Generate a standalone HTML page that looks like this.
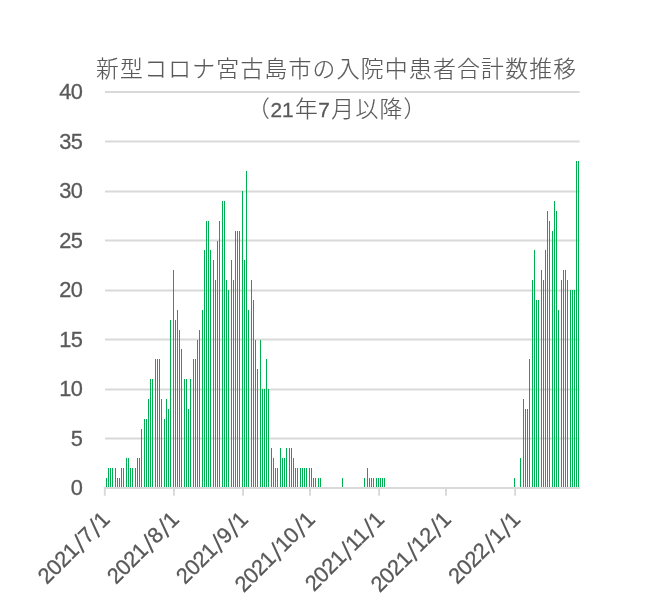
<!DOCTYPE html>
<html lang="ja"><head><meta charset="utf-8"><title>新型コロナ宮古島市の入院中患者合計数推移</title>
<style>
html,body{margin:0;padding:0;background:#fff;}
body{width:648px;height:601px;overflow:hidden;}
svg{display:block;}
.aa{shape-rendering:geometricPrecision;}
.num{font-family:"Liberation Sans",sans-serif;font-size:21.8px;fill:#595959;letter-spacing:-0.4px;stroke:#595959;stroke-width:0.3px;}
.ttl{font-family:"Liberation Sans","Noto Sans CJK JP",sans-serif;font-size:22.8px;letter-spacing:1.27px;font-weight:300;fill:#595959;stroke:#595959;stroke-width:0.15px;}
.sl{font-size:27px;stroke-width:0;}
.tn{font-family:"Liberation Sans",sans-serif;font-size:20.8px;font-weight:400;letter-spacing:0.1px;stroke:#595959;stroke-width:0.3px;}
</style></head>
<body>
<svg width="648" height="601" viewBox="0 0 648 601">
<rect width="648" height="601" fill="#fff"/>
<g shape-rendering="crispEdges">
<rect class="aa" x="105" y="437.50" width="474.6" height="2" fill="#D9D9D9"/>
<rect class="aa" x="105" y="388.50" width="474.6" height="2" fill="#D9D9D9"/>
<rect class="aa" x="105" y="338.50" width="474.6" height="2" fill="#D9D9D9"/>
<rect class="aa" x="105" y="289.50" width="474.6" height="2" fill="#D9D9D9"/>
<rect class="aa" x="105" y="239.50" width="474.6" height="2" fill="#D9D9D9"/>
<rect class="aa" x="105" y="190.50" width="474.6" height="2" fill="#D9D9D9"/>
<rect class="aa" x="105" y="140.50" width="474.6" height="2" fill="#D9D9D9"/>
<rect class="aa" x="105" y="91.00" width="474.6" height="2" fill="#D9D9D9"/>
<g fill="#00B050"><rect x="106" y="478.10" width="1" height="9.90"/><rect x="108" y="468.20" width="1" height="19.80"/><rect x="110" y="468.20" width="1" height="19.80"/><rect x="112" y="468.20" width="1" height="19.80"/><rect x="115" y="468.20" width="1" height="19.80"/><rect x="117" y="478.10" width="1" height="9.90"/><rect x="119" y="478.10" width="1" height="9.90"/><rect x="121" y="468.20" width="1" height="19.80"/><rect x="123" y="468.20" width="1" height="19.80"/><rect x="126" y="458.30" width="1" height="29.70"/><rect x="128" y="458.30" width="1" height="29.70"/><rect x="130" y="468.20" width="1" height="19.80"/><rect x="132" y="468.20" width="1" height="19.80"/><rect x="135" y="468.20" width="1" height="19.80"/><rect x="137" y="458.30" width="1" height="29.70"/><rect x="139" y="458.30" width="1" height="29.70"/><rect x="141" y="428.60" width="1" height="59.40"/><rect x="144" y="418.70" width="1" height="69.30"/><rect x="146" y="418.70" width="1" height="69.30"/><rect x="148" y="398.90" width="1" height="89.10"/><rect x="150" y="379.10" width="1" height="108.90"/><rect x="152" y="379.10" width="1" height="108.90"/><rect x="155" y="359.30" width="1" height="128.70"/><rect x="157" y="359.30" width="1" height="128.70"/><rect x="159" y="359.30" width="1" height="128.70"/><rect x="161" y="398.90" width="1" height="89.10"/><rect x="164" y="418.70" width="1" height="69.30"/><rect x="166" y="398.90" width="1" height="89.10"/><rect x="168" y="408.80" width="1" height="79.20"/><rect x="170" y="319.70" width="1" height="168.30"/><rect x="173" y="270.20" width="1" height="217.80"/><rect x="175" y="319.70" width="1" height="168.30"/><rect x="177" y="309.80" width="1" height="178.20"/><rect x="179" y="329.60" width="1" height="158.40"/><rect x="181" y="349.40" width="1" height="138.60"/><rect x="184" y="379.10" width="1" height="108.90"/><rect x="186" y="379.10" width="1" height="108.90"/><rect x="188" y="408.80" width="1" height="79.20"/><rect x="190" y="379.10" width="1" height="108.90"/><rect x="193" y="359.30" width="1" height="128.70"/><rect x="195" y="359.30" width="1" height="128.70"/><rect x="197" y="339.50" width="1" height="148.50"/><rect x="199" y="329.60" width="1" height="158.40"/><rect x="202" y="309.80" width="1" height="178.20"/><rect x="204" y="250.40" width="1" height="237.60"/><rect x="206" y="220.70" width="1" height="267.30"/><rect x="208" y="220.70" width="1" height="267.30"/><rect x="210" y="250.40" width="1" height="237.60"/><rect x="213" y="260.30" width="1" height="227.70"/><rect x="215" y="280.10" width="1" height="207.90"/><rect x="217" y="240.50" width="1" height="247.50"/><rect x="219" y="220.70" width="1" height="267.30"/><rect x="222" y="200.90" width="1" height="287.10"/><rect x="224" y="200.90" width="1" height="287.10"/><rect x="226" y="280.10" width="1" height="207.90"/><rect x="228" y="290.00" width="1" height="198.00"/><rect x="231" y="260.30" width="1" height="227.70"/><rect x="233" y="280.10" width="1" height="207.90"/><rect x="235" y="230.60" width="1" height="257.40"/><rect x="237" y="230.60" width="1" height="257.40"/><rect x="239" y="230.60" width="1" height="257.40"/><rect x="242" y="191.00" width="1" height="297.00"/><rect x="244" y="260.30" width="1" height="227.70"/><rect x="246" y="171.20" width="1" height="316.80"/><rect x="248" y="309.80" width="1" height="178.20"/><rect x="251" y="280.10" width="1" height="207.90"/><rect x="253" y="299.90" width="1" height="188.10"/><rect x="255" y="339.50" width="1" height="148.50"/><rect x="257" y="369.20" width="1" height="118.80"/><rect x="260" y="339.50" width="1" height="148.50"/><rect x="262" y="389.00" width="1" height="99.00"/><rect x="264" y="389.00" width="1" height="99.00"/><rect x="266" y="359.30" width="1" height="128.70"/><rect x="268" y="389.00" width="1" height="99.00"/><rect x="271" y="448.40" width="1" height="39.60"/><rect x="273" y="458.30" width="1" height="29.70"/><rect x="275" y="468.20" width="1" height="19.80"/><rect x="277" y="468.20" width="1" height="19.80"/><rect x="280" y="448.40" width="1" height="39.60"/><rect x="282" y="458.30" width="1" height="29.70"/><rect x="284" y="458.30" width="1" height="29.70"/><rect x="286" y="448.40" width="1" height="39.60"/><rect x="289" y="448.40" width="1" height="39.60"/><rect x="291" y="448.40" width="1" height="39.60"/><rect x="293" y="458.30" width="1" height="29.70"/><rect x="295" y="468.20" width="1" height="19.80"/><rect x="297" y="468.20" width="1" height="19.80"/><rect x="300" y="468.20" width="1" height="19.80"/><rect x="302" y="468.20" width="1" height="19.80"/><rect x="304" y="468.20" width="1" height="19.80"/><rect x="306" y="468.20" width="1" height="19.80"/><rect x="309" y="468.20" width="1" height="19.80"/><rect x="311" y="468.20" width="1" height="19.80"/><rect x="313" y="478.10" width="1" height="9.90"/><rect x="315" y="478.10" width="1" height="9.90"/><rect x="318" y="478.10" width="1" height="9.90"/><rect x="320" y="478.10" width="1" height="9.90"/><rect x="342" y="478.10" width="1" height="9.90"/><rect x="364" y="478.10" width="1" height="9.90"/><rect x="367" y="468.20" width="1" height="19.80"/><rect x="369" y="478.10" width="1" height="9.90"/><rect x="371" y="478.10" width="1" height="9.90"/><rect x="373" y="478.10" width="1" height="9.90"/><rect x="376" y="478.10" width="1" height="9.90"/><rect x="378" y="478.10" width="1" height="9.90"/><rect x="380" y="478.10" width="1" height="9.90"/><rect x="382" y="478.10" width="1" height="9.90"/><rect x="384" y="478.10" width="1" height="9.90"/><rect x="514" y="478.10" width="1" height="9.90"/><rect x="520" y="458.30" width="1" height="29.70"/><rect x="523" y="398.90" width="1" height="89.10"/><rect x="525" y="408.80" width="1" height="79.20"/><rect x="527" y="408.80" width="1" height="79.20"/><rect x="529" y="359.30" width="1" height="128.70"/><rect x="532" y="280.10" width="1" height="207.90"/><rect x="534" y="250.40" width="1" height="237.60"/><rect x="536" y="299.90" width="1" height="188.10"/><rect x="538" y="299.90" width="1" height="188.10"/><rect x="541" y="270.20" width="1" height="217.80"/><rect x="543" y="280.10" width="1" height="207.90"/><rect x="545" y="250.40" width="1" height="237.60"/><rect x="547" y="210.80" width="1" height="277.20"/><rect x="549" y="220.70" width="1" height="267.30"/><rect x="552" y="230.60" width="1" height="257.40"/><rect x="554" y="200.90" width="1" height="287.10"/><rect x="556" y="210.80" width="1" height="277.20"/><rect x="558" y="309.80" width="1" height="178.20"/><rect x="561" y="280.10" width="1" height="207.90"/><rect x="563" y="270.20" width="1" height="217.80"/><rect x="565" y="270.20" width="1" height="217.80"/><rect x="567" y="280.10" width="1" height="207.90"/><rect x="570" y="290.00" width="1" height="198.00"/><rect x="572" y="290.00" width="1" height="198.00"/><rect x="574" y="290.00" width="1" height="198.00"/><rect x="576" y="161.30" width="1" height="326.70"/><rect x="578" y="161.30" width="1" height="326.70"/></g>
<rect x="104" y="487" width="475.6" height="2" fill="#D9D9D9"/>
<rect class="aa" x="103.85" y="488" width="1.9" height="7.75" fill="#D9D9D9"/>
<rect class="aa" x="172.99" y="488" width="1.9" height="7.75" fill="#D9D9D9"/>
<rect class="aa" x="242.12" y="488" width="1.9" height="7.75" fill="#D9D9D9"/>
<rect class="aa" x="309.03" y="488" width="1.9" height="7.75" fill="#D9D9D9"/>
<rect class="aa" x="378.16" y="488" width="1.9" height="7.75" fill="#D9D9D9"/>
<rect class="aa" x="445.07" y="488" width="1.9" height="7.75" fill="#D9D9D9"/>
<rect class="aa" x="514.21" y="488" width="1.9" height="7.75" fill="#D9D9D9"/>
</g>
<text class="num" x="82.6" y="495.40" text-anchor="end">0</text>
<text class="num" x="82.6" y="445.90" text-anchor="end">5</text>
<text class="num" x="82.6" y="396.40" text-anchor="end">10</text>
<text class="num" x="82.6" y="346.90" text-anchor="end">15</text>
<text class="num" x="82.6" y="297.40" text-anchor="end">20</text>
<text class="num" x="82.6" y="247.90" text-anchor="end">25</text>
<text class="num" x="82.6" y="198.40" text-anchor="end">30</text>
<text class="num" x="82.6" y="148.90" text-anchor="end">35</text>
<text class="num" x="82.6" y="99.40" text-anchor="end">40</text>
<text class="num" text-anchor="end" transform="translate(110.90,521.00) rotate(-45)">2021<tspan class="sl" dx="1.0" dy="3.0" rotate="5">/</tspan><tspan dx="2.0" dy="-3.0" rotate="0">7</tspan><tspan class="sl" dx="1.0" dy="3.0" rotate="5">/</tspan><tspan dx="2.0" dy="-3.0" rotate="0">1</tspan></text>
<text class="num" text-anchor="end" transform="translate(180.04,521.00) rotate(-45)">2021<tspan class="sl" dx="1.0" dy="3.0" rotate="5">/</tspan><tspan dx="2.0" dy="-3.0" rotate="0">8</tspan><tspan class="sl" dx="1.0" dy="3.0" rotate="5">/</tspan><tspan dx="2.0" dy="-3.0" rotate="0">1</tspan></text>
<text class="num" text-anchor="end" transform="translate(249.17,521.00) rotate(-45)">2021<tspan class="sl" dx="1.0" dy="3.0" rotate="5">/</tspan><tspan dx="2.0" dy="-3.0" rotate="0">9</tspan><tspan class="sl" dx="1.0" dy="3.0" rotate="5">/</tspan><tspan dx="2.0" dy="-3.0" rotate="0">1</tspan></text>
<text class="num" text-anchor="end" transform="translate(316.08,521.00) rotate(-45)">2021<tspan class="sl" dx="1.0" dy="3.0" rotate="5">/</tspan><tspan dx="2.0" dy="-3.0" rotate="0">10</tspan><tspan class="sl" dx="1.0" dy="3.0" rotate="5">/</tspan><tspan dx="2.0" dy="-3.0" rotate="0">1</tspan></text>
<text class="num" text-anchor="end" transform="translate(385.21,521.00) rotate(-45)">2021<tspan class="sl" dx="1.0" dy="3.0" rotate="5">/</tspan><tspan dx="2.0" dy="-3.0" rotate="0">11</tspan><tspan class="sl" dx="1.0" dy="3.0" rotate="5">/</tspan><tspan dx="2.0" dy="-3.0" rotate="0">1</tspan></text>
<text class="num" text-anchor="end" transform="translate(452.12,521.00) rotate(-45)">2021<tspan class="sl" dx="1.0" dy="3.0" rotate="5">/</tspan><tspan dx="2.0" dy="-3.0" rotate="0">12</tspan><tspan class="sl" dx="1.0" dy="3.0" rotate="5">/</tspan><tspan dx="2.0" dy="-3.0" rotate="0">1</tspan></text>
<text class="num" text-anchor="end" transform="translate(521.26,521.00) rotate(-45)">2022<tspan class="sl" dx="1.0" dy="3.0" rotate="5">/</tspan><tspan dx="2.0" dy="-3.0" rotate="0">1</tspan><tspan class="sl" dx="1.0" dy="3.0" rotate="5">/</tspan><tspan dx="2.0" dy="-3.0" rotate="0">1</tspan></text>
<text class="ttl" x="336.7" y="77" text-anchor="middle">新型コロナ宮古島市の入院中患者合計数推移</text>
<text class="ttl" x="337.3" y="117" text-anchor="middle">（<tspan class="tn" dx="-0.6">21</tspan><tspan dx="1.3">年</tspan><tspan class="tn" dx="-0.8">7</tspan><tspan dx="1.3">月以降）</tspan></text>
</svg>
</body></html>
